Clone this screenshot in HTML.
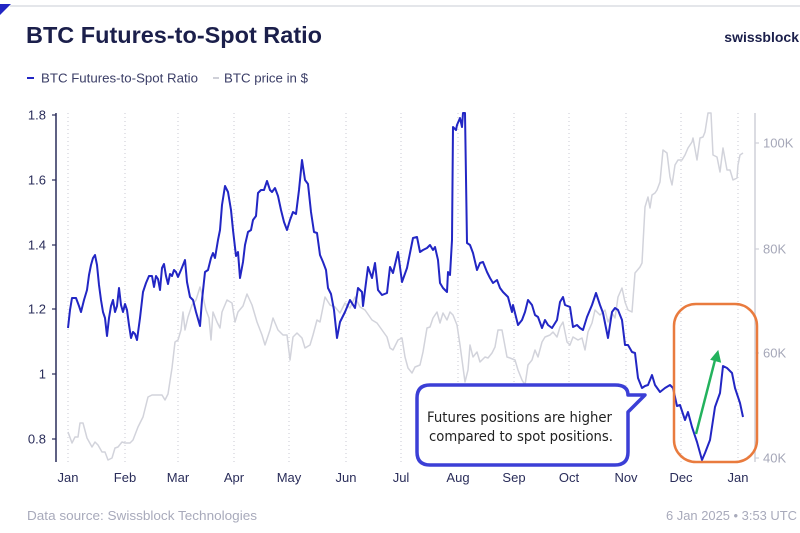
<!DOCTYPE html>
<html><head><meta charset="utf-8"><style>
html,body{margin:0;padding:0;background:#fff;}
svg{display:block;font-family:"Liberation Sans",sans-serif;}
</style></head><body>
<svg width="800" height="533" viewBox="0 0 800 533" xmlns="http://www.w3.org/2000/svg">
<rect width="800" height="533" fill="#fff"/>
<line x1="10" y1="6" x2="800" y2="6" stroke="#dcdde3" stroke-width="1.5"/>
<polygon points="0,4 11,4 0,15" fill="#2226c4"/>
<text x="26" y="43" font-size="23.5" font-weight="bold" fill="#1b1f4b" textLength="296" lengthAdjust="spacingAndGlyphs">BTC Futures-to-Spot Ratio</text>
<text x="799" y="42" font-size="14" font-weight="bold" fill="#1b1f4b" text-anchor="end">swissblock</text>
<line x1="27" y1="78" x2="34" y2="78" stroke="#2226c4" stroke-width="2"/>
<text x="41" y="82.5" font-size="13.3" fill="#3a3d66" textLength="157" lengthAdjust="spacingAndGlyphs">BTC Futures-to-Spot Ratio</text>
<line x1="213" y1="78" x2="219" y2="78" stroke="#cfd0d8" stroke-width="2"/>
<text x="224" y="82.5" font-size="13.3" fill="#3a3d66" textLength="84" lengthAdjust="spacingAndGlyphs">BTC price in $</text>

<g stroke="#c9cad3" stroke-width="1" stroke-dasharray="1,3">
<line x1="68" y1="113" x2="68" y2="462"/>
<line x1="125" y1="113" x2="125" y2="462"/>
<line x1="178" y1="113" x2="178" y2="462"/>
<line x1="234" y1="113" x2="234" y2="462"/>
<line x1="289" y1="113" x2="289" y2="462"/>
<line x1="346" y1="113" x2="346" y2="462"/>
<line x1="401" y1="113" x2="401" y2="462"/>
<line x1="458" y1="113" x2="458" y2="462"/>
<line x1="514" y1="113" x2="514" y2="462"/>
<line x1="569" y1="113" x2="569" y2="462"/>
<line x1="626" y1="113" x2="626" y2="462"/>
<line x1="681" y1="113" x2="681" y2="462"/>
<line x1="738" y1="113" x2="738" y2="462"/>
</g>

<line x1="56" y1="113" x2="56" y2="462" stroke="#2a2d5a" stroke-width="1.5"/>
<g stroke="#2a2d5a" stroke-width="1.2">
<line x1="52" y1="115" x2="56" y2="115"/>
<line x1="52" y1="180" x2="56" y2="180"/>
<line x1="52" y1="245" x2="56" y2="245"/>
<line x1="52" y1="309" x2="56" y2="309"/>
<line x1="52" y1="374" x2="56" y2="374"/>
<line x1="52" y1="439" x2="56" y2="439"/>
</g>
<g font-size="13" fill="#2a2d5a" text-anchor="end">
<text x="46" y="119.5">1.8</text>
<text x="46" y="184.5">1.6</text>
<text x="46" y="249.5">1.4</text>
<text x="46" y="313.5">1.2</text>
<text x="46" y="378.5">1</text>
<text x="46" y="443.5">0.8</text>
</g>

<line x1="755" y1="113" x2="755" y2="462" stroke="#cfd0d8" stroke-width="1.5"/>
<g stroke="#cfd0d8" stroke-width="1.2">
<line x1="755" y1="143" x2="759" y2="143"/>
<line x1="755" y1="249" x2="759" y2="249"/>
<line x1="755" y1="353" x2="759" y2="353"/>
<line x1="755" y1="458" x2="759" y2="458"/>
</g>
<g font-size="13" fill="#a5a7b8">
<text x="763" y="147.5">100K</text>
<text x="763" y="253.5">80K</text>
<text x="763" y="357.5">60K</text>
<text x="763" y="462.5">40K</text>
</g>

<g font-size="13" fill="#2a2d5a" text-anchor="middle">
<text x="68" y="482">Jan</text>
<text x="125" y="482">Feb</text>
<text x="178" y="482">Mar</text>
<text x="234" y="482">Apr</text>
<text x="289" y="482">May</text>
<text x="346" y="482">Jun</text>
<text x="401" y="482">Jul</text>
<text x="458" y="482">Aug</text>
<text x="514" y="482">Sep</text>
<text x="569" y="482">Oct</text>
<text x="626" y="482">Nov</text>
<text x="681" y="482">Dec</text>
<text x="738" y="482">Jan</text>
</g>

<polyline fill="none" stroke="#d2d3db" stroke-width="1.5" stroke-linejoin="round" points="68,432 72,443 75,437 78,437 80,423 83,423 87,438 92,447 95,442 98,445 102,452 105,452 108,460 112,458 115,448 118,447 122,442 125,443 130,443 133,440 138,427 143,417 148,397 152,395 158,395 162,395 165,400 168,394 172,368 175,342 178,340 181,330 183,312 185,330 188,317 192,305 196,300 200,287 203,297 206,310 209,318 211,340 213,312 217,322 220,328 222,312 227,300 232,303 235,322 238,312 243,306 247,294 252,305 257,322 262,335 265,345 270,330 273,318 278,330 283,335 287,335 290,360 293,337 297,333 302,338 305,348 310,345 313,335 317,320 320,322 325,297 330,305 335,307 340,313 345,303 350,308 355,297 360,307 365,310 372,320 377,323 382,330 387,337 390,348 393,350 398,340 402,338 405,357 408,368 412,373 415,367 420,365 423,352 427,328 430,327 433,318 437,312 440,323 443,313 447,320 450,312 453,315 457,325 460,345 465,382 468,370 470,345 473,357 477,352 480,362 485,357 488,358 492,353 495,347 498,330 502,330 507,357 510,358 515,360 518,370 522,380 525,385 528,365 532,360 535,350 538,357 542,342 545,337 550,335 553,332 557,337 560,327 563,322 567,342 570,345 573,337 578,340 582,338 585,350 588,332 592,323 595,310 600,315 605,310 608,322 612,313 615,318 618,297 622,288 625,302 628,310 632,312 635,273 640,267 642,263 645,207 648,197 650,208 652,195 655,193 657,190 660,182 663,150 667,153 670,177 672,185 675,165 678,160 682,160 685,155 688,148 692,142 693,138 697,160 700,138 703,137 705,132 708,113 711,113 713,155 717,157 720,172 723,148 727,170 730,170 733,180 737,178 738,165 740,155 743,153"/>

<polyline fill="none" stroke="#2226c4" stroke-width="2" stroke-linejoin="round" points="68,328 70,310 72,298 76,298 79,306 81,312 84,300 87,290 89,275 91,265 93,258 95,255 97,265 99,285 101,300 103,312 105,318 107,336 109,318 111,306 113,300 115,312 117,306 119,288 121,305 123,312 125,304 127,310 129,325 131,338 133,332 135,334 137,340 140,318 143,292 146,283 149,276 152,276 154,287 156,276 158,279 160,290 162,268 164,264 166,276 168,284 170,274 172,276 174,270 176,272 178,277 181,270 183,265 185,260 187,282 190,297 193,300 196,312 200,326 202,300 205,272 208,270 211,258 213,253 215,258 218,240 220,230 222,205 225,186 228,192 231,210 233,230 236,256 238,252 240,278 243,262 245,245 248,232 251,230 253,220 256,216 258,193 261,190 264,190 267,181 270,190 272,192 275,188 278,196 281,210 284,222 287,230 290,220 293,212 296,214 299,190 302,160 305,180 308,184 311,212 314,232 317,233 320,255 323,262 326,270 328,288 331,294 334,310 337,338 340,322 345,312 350,300 355,308 358,288 362,292 363,306 368,267 372,278 375,263 378,290 382,295 387,293 390,267 393,273 398,252 402,282 407,268 410,253 413,238 417,237 420,252 423,250 427,248 430,245 433,250 435,247 438,260 440,283 443,288 447,292 448,272 450,275 452,240 453,127 456,130 457,125 460,118 462,127 463,113 465,113 467,243 470,245 473,253 477,270 480,263 483,262 487,272 490,278 493,283 497,280 500,288 503,292 508,297 512,312 513,305 518,325 522,320 525,312 528,300 532,305 535,315 538,317 542,328 545,320 548,325 552,328 557,320 560,302 563,297 565,305 570,307 573,327 577,325 580,328 583,330 587,317 592,305 596,293 600,305 603,313 608,338 612,312 615,308 618,310 622,320 625,345 628,345 632,352 635,353 638,378 642,388 645,386 648,385 652,375 655,385 660,392 665,388 670,385 673,388 677,406 680,405 685,420 688,412 692,427 697,442 702,460 705,453 710,440 715,407 720,393 723,366 727,368 732,373 735,388 740,403 743,417"/>

<path d="M430,385 H615 Q628,385 628,395 H645 L628,412 V452 Q628,465 615,465 H430 Q417,465 417,452 V398 Q417,385 430,385 Z" fill="#fff" stroke="#3b3fd6" stroke-width="3.5" stroke-linejoin="round"/>
<text x="427" y="422" font-size="14" fill="#222" font-family="DejaVu Sans, Liberation Sans, sans-serif" textLength="185" lengthAdjust="spacingAndGlyphs">Futures positions are higher</text>
<text x="429" y="441" font-size="14" fill="#222" font-family="DejaVu Sans, Liberation Sans, sans-serif" textLength="184" lengthAdjust="spacingAndGlyphs">compared to spot positions.</text>

<rect x="674" y="304" width="83" height="158" rx="22" ry="22" fill="none" stroke="#e97b3e" stroke-width="2.5"/>
<line x1="696" y1="434" x2="715" y2="360" stroke="#23b25d" stroke-width="2.5"/>
<polygon points="718,351 720.5,362 711,359.5" fill="#23b25d" stroke="#23b25d" stroke-width="1"/>

<text x="27" y="520" font-size="13" fill="#a8aabb" textLength="230" lengthAdjust="spacingAndGlyphs">Data source: Swissblock Technologies</text>
<text x="797" y="520" font-size="13" fill="#a8aabb" text-anchor="end" textLength="131" lengthAdjust="spacingAndGlyphs">6 Jan 2025 • 3:53 UTC</text>
</svg>
</body></html>
